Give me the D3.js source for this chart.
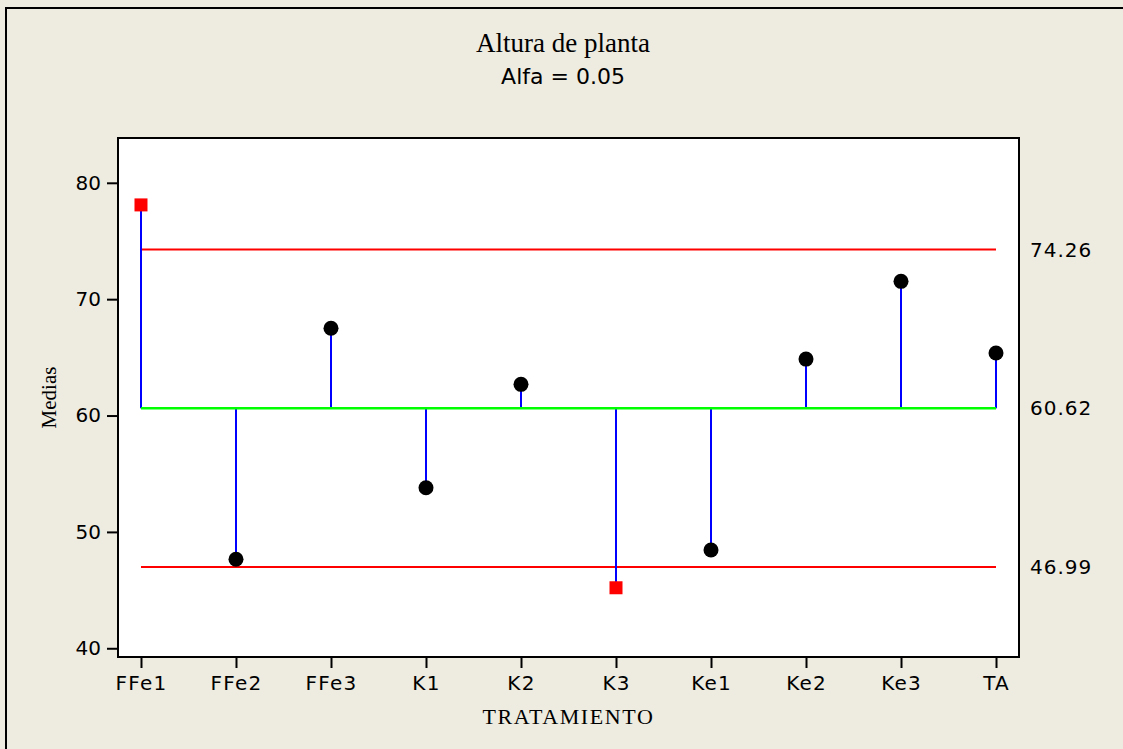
<!DOCTYPE html>
<html>
<head>
<meta charset="utf-8">
<script src="https://cdn.jsdelivr.net/npm/d3@7"></script>
<style>
  body { margin: 0; background: #eeebe1; overflow: hidden; }
  svg { display: block; }
  .axis text { font-family: "DejaVu Sans", sans-serif; font-size: 20px; fill: #000; }
  .axis line { stroke: #000; stroke-width: 2px; }
  .serif { font-family: "Liberation Serif", "Times New Roman", serif; fill: #000; }
</style>
</head>
<body>
<div id="d3-container"></div>
<script>
/**
 * DATA
 * */
const categories = ["FFe1", "FFe2", "FFe3", "K1", "K2", "K3", "Ke1", "Ke2", "Ke3", "TA"];
const means = [78.1, 47.65, 67.5, 53.8, 62.68, 45.2, 48.45, 64.85, 71.53, 65.37];
const limitValues = [46.99, 60.62, 74.26]; // lower, center, upper
const yTicks = [40, 50, 60, 70, 80];

/**
 * CONSTANTS
 * */
const width = 1123,
  height = 749,
  plot = { left: 118, top: 138, right: 1019, bottom: 657 };

const lower = limitValues[0],
  center = limitValues[1],
  upper = limitValues[2];

const svg = d3
  .select("#d3-container")
  .append("svg")
  .attr("width", width)
  .attr("height", height);

// outer frame: only the top and left edges are in the picture
svg
  .append("path")
  .attr("d", `M6,${height}V8H${width}`)
  .attr("fill", "none")
  .attr("stroke", "#000")
  .attr("stroke-width", 2);

// SCALES
const xScale = d3
  .scalePoint()
  .domain(categories)
  .range([plot.left, plot.right])
  .padding(0.242);

const yScale = d3
  .scaleLinear()
  .domain([39.25, 83.85])
  .range([plot.bottom, plot.top]);

// plot area
svg
  .append("rect")
  .attr("x", plot.left)
  .attr("y", plot.top)
  .attr("width", plot.right - plot.left)
  .attr("height", plot.bottom - plot.top)
  .attr("fill", "#fff")
  .attr("stroke", "#000")
  .attr("stroke-width", 2);

// TITLES
svg
  .append("text")
  .attr("class", "serif")
  .attr("x", 563)
  .attr("y", 52)
  .attr("text-anchor", "middle")
  .attr("font-size", 27)
  .text("Altura de planta");

svg
  .append("text")
  .attr("x", 563)
  .attr("y", 84)
  .attr("text-anchor", "middle")
  .attr("font-family", "DejaVu Sans, sans-serif")
  .attr("font-size", 22)
  .text("Alfa = 0.05");

// AXES
const yAxis = d3.axisLeft(yScale).tickValues(yTicks).tickSize(10).tickPadding(6);
const xAxis = d3.axisBottom(xScale).tickSize(10).tickPadding(8);
const limitAxis = d3
  .axisRight(yScale)
  .tickValues(limitValues)
  .tickSize(0)
  .tickPadding(11)
  .tickFormat(d3.format(".2f"));

svg
  .append("g")
  .attr("class", "axis y-axis")
  .attr("transform", `translate(${plot.left - 1},0)`)
  .call(yAxis)
  .call(g => g.select(".domain").remove())
  .selectAll("text")
  .attr("font-size", 21);

svg
  .append("g")
  .attr("class", "axis x-axis")
  .attr("transform", `translate(0,${plot.bottom + 1})`)
  .call(xAxis)
  .call(g => g.select(".domain").remove())
  .selectAll("text")
  .attr("font-size", 21)
  .attr("letter-spacing", 1.2);

svg
  .append("g")
  .attr("class", "axis limit-axis")
  .attr("transform", `translate(${plot.right},0)`)
  .call(limitAxis)
  .call(g => g.select(".domain").remove())
  .selectAll("text")
  .attr("letter-spacing", 1);

// axis labels
svg
  .append("text")
  .attr("class", "serif")
  .attr("x", (plot.left + plot.right) / 2)
  .attr("y", 724)
  .attr("text-anchor", "middle")
  .attr("font-size", 22)
  .attr("letter-spacing", 1.6)
  .text("TRATAMIENTO");

svg
  .append("text")
  .attr("class", "serif")
  .attr("transform", `translate(56,${(plot.top + plot.bottom) / 2}) rotate(-90)`)
  .attr("text-anchor", "middle")
  .attr("font-size", 21)
  .text("Medias");

// LIMIT LINES
const xFirst = xScale(categories[0]),
  xLast = xScale(categories[categories.length - 1]);

svg
  .selectAll(".limit")
  .data([lower, upper])
  .join("line")
  .attr("class", "limit")
  .attr("x1", xFirst)
  .attr("x2", xLast)
  .attr("y1", d => yScale(d))
  .attr("y2", d => yScale(d))
  .attr("stroke", "#ff0000")
  .attr("stroke-width", 2);

// stems from the center line to each mean
svg
  .selectAll(".stem")
  .data(categories)
  .join("line")
  .attr("class", "stem")
  .attr("x1", d => xScale(d))
  .attr("x2", d => xScale(d))
  .attr("y1", yScale(center))
  .attr("y2", (d, i) => yScale(means[i]))
  .attr("stroke", "#0000ff")
  .attr("stroke-width", 2);

svg
  .append("line")
  .attr("x1", xFirst)
  .attr("x2", xLast)
  .attr("y1", yScale(center))
  .attr("y2", yScale(center))
  .attr("stroke", "#00ff00")
  .attr("stroke-width", 2.5);

// POINTS: outside the decision limits -> red square, else black dot
const points = categories.map((c, i) => ({ cat: c, value: means[i] }));
const isOut = d => d.value > upper || d.value < lower;
const sq = 13;

svg
  .selectAll(".dot")
  .data(points.filter(d => !isOut(d)))
  .join("circle")
  .attr("class", "dot")
  .attr("cx", d => xScale(d.cat))
  .attr("cy", d => yScale(d.value))
  .attr("r", 7.5)
  .attr("fill", "#000");

svg
  .selectAll(".out")
  .data(points.filter(isOut))
  .join("rect")
  .attr("class", "out")
  .attr("x", d => xScale(d.cat) - sq / 2)
  .attr("y", d => yScale(d.value) - sq / 2)
  .attr("width", sq)
  .attr("height", sq)
  .attr("fill", "#ff0000");
</script>
</body>
</html>
